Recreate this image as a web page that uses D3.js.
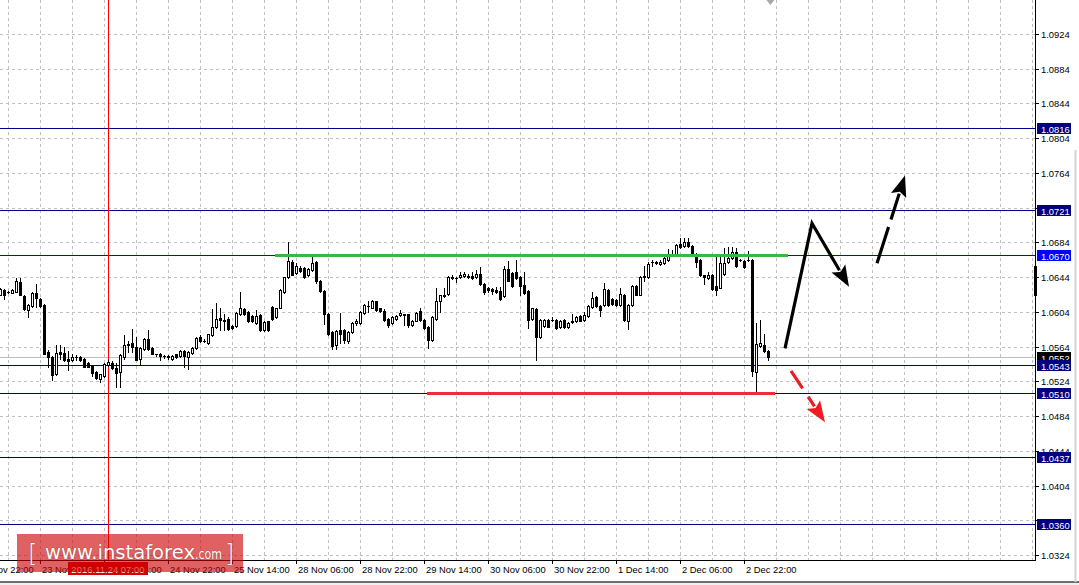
<!DOCTYPE html>
<html><head><meta charset="utf-8">
<script src="https://cdn.jsdelivr.net/npm/d3@7"></script>
<style>html,body{margin:0;padding:0;background:#fff;overflow:hidden}</style>
</head><body>
<svg id="chart" width="1079" height="585"></svg>
<script>
// ---------- DATA ----------
// hourly EURUSD candles [open, high, low, close]; array index = bar number (bar 27 = 2016.11.24 07:00)
const ohlc = [
[1.0624,1.0631,1.0623,1.0630],[1.0629,1.0630,1.0619,1.0624],[1.0627,1.0628,1.0626,1.0627],[1.0626,1.0630,1.0626,1.0629],
[1.0627,1.0643,1.0627,1.0640],[1.0638,1.0643,1.0623,1.0623],[1.0622,1.0623,1.0606,1.0607],[1.0606,1.0613,1.0598,1.0612],
[1.0611,1.0627,1.0610,1.0626],[1.0626,1.0636,1.0610,1.0620],[1.0619,1.0620,1.0610,1.0611],[1.0612,1.0613,1.0555,1.0556],
[1.0558,1.0560,1.0540,1.0552],[1.0552,1.0553,1.0525,1.0531],[1.0533,1.0566,1.0531,1.0557],[1.0558,1.0566,1.0550,1.0556],
[1.0557,1.0564,1.0547,1.0549],[1.0550,1.0559,1.0537,1.0547],[1.0548,1.0556,1.0547,1.0552],[1.0552,1.0554,1.0548,1.0552],
[1.0552,1.0553,1.0547,1.0548],[1.0550,1.0551,1.0540,1.0541],[1.0545,1.0546,1.0540,1.0541],[1.0542,1.0543,1.0530,1.0534],
[1.0535,1.0536,1.0527,1.0528],[1.0527,1.0533,1.0523,1.0532],[1.0530,1.0545,1.0529,1.0544],[1.0543,1.0548,1.0542,1.0546],
[1.0545,1.0547,1.0538,1.0539],[1.0539,1.0545,1.0518,1.0534],[1.0535,1.0556,1.0517,1.0554],[1.0552,1.0577,1.0550,1.0566],
[1.0566,1.0571,1.0558,1.0567],[1.0568,1.0584,1.0558,1.0564],[1.0563,1.0575,1.0548,1.0548],[1.0550,1.0563,1.0543,1.0562],
[1.0561,1.0574,1.0560,1.0573],[1.0573,1.0583,1.0560,1.0561],[1.0562,1.0563,1.0555,1.0556],[1.0555,1.0556,1.0553,1.0555],
[1.0556,1.0557,1.0548,1.0553],[1.0553,1.0554,1.0551,1.0553],[1.0553,1.0554,1.0550,1.0552],[1.0550,1.0554,1.0549,1.0553],
[1.0555,1.0556,1.0551,1.0552],[1.0553,1.0560,1.0552,1.0559],[1.0559,1.0560,1.0540,1.0553],[1.0552,1.0559,1.0538,1.0558],
[1.0557,1.0563,1.0556,1.0562],[1.0562,1.0575,1.0561,1.0574],[1.0575,1.0577,1.0569,1.0570],[1.0571,1.0573,1.0569,1.0571],
[1.0568,1.0579,1.0567,1.0578],[1.0577,1.0607,1.0576,1.0587],[1.0586,1.0614,1.0585,1.0596],[1.0597,1.0608,1.0583,1.0595],
[1.0595,1.0602,1.0583,1.0594],[1.0596,1.0598,1.0583,1.0584],[1.0588,1.0589,1.0584,1.0585],[1.0588,1.0604,1.0587,1.0603],
[1.0601,1.0627,1.0600,1.0608],[1.0607,1.0609,1.0600,1.0601],[1.0604,1.0605,1.0592,1.0593],[1.0599,1.0600,1.0592,1.0593],
[1.0591,1.0606,1.0590,1.0599],[1.0600,1.0601,1.0582,1.0583],[1.0583,1.0593,1.0582,1.0592],[1.0593,1.0594,1.0582,1.0583],
[1.0610,1.0611,1.0595,1.0596],[1.0598,1.0609,1.0597,1.0608],[1.0609,1.0630,1.0608,1.0629],[1.0627,1.0644,1.0626,1.0644],
[1.0644,1.0685,1.0643,1.0663],[1.0662,1.0664,1.0646,1.0647],[1.0649,1.0660,1.0648,1.0657],[1.0655,1.0657,1.0650,1.0651],
[1.0655,1.0656,1.0643,1.0644],[1.0646,1.0654,1.0645,1.0653],[1.0652,1.0667,1.0651,1.0660],[1.0661,1.0663,1.0637,1.0640],
[1.0640,1.0641,1.0627,1.0628],[1.0628,1.0629,1.0590,1.0602],[1.0602,1.0603,1.0577,1.0578],[1.0581,1.0582,1.0561,1.0565],
[1.0566,1.0583,1.0561,1.0582],[1.0583,1.0603,1.0568,1.0578],[1.0583,1.0584,1.0568,1.0572],[1.0571,1.0582,1.0568,1.0581],
[1.0581,1.0592,1.0580,1.0591],[1.0591,1.0596,1.0589,1.0593],[1.0591,1.0605,1.0590,1.0604],[1.0603,1.0613,1.0602,1.0612],
[1.0611,1.0616,1.0604,1.0611],[1.0609,1.0618,1.0608,1.0616],[1.0616,1.0617,1.0605,1.0606],[1.0608,1.0609,1.0604,1.0605],
[1.0605,1.0607,1.0594,1.0595],[1.0596,1.0597,1.0586,1.0589],[1.0591,1.0599,1.0590,1.0598],[1.0596,1.0600,1.0595,1.0599],
[1.0600,1.0606,1.0599,1.0603],[1.0601,1.0602,1.0589,1.0600],[1.0601,1.0602,1.0586,1.0589],[1.0589,1.0595,1.0588,1.0594],
[1.0594,1.0604,1.0593,1.0603],[1.0605,1.0608,1.0594,1.0595],[1.0595,1.0596,1.0584,1.0585],[1.0587,1.0588,1.0562,1.0572],
[1.0572,1.0599,1.0571,1.0598],[1.0596,1.0631,1.0595,1.0616],[1.0616,1.0624,1.0604,1.0623],[1.0622,1.0632,1.0621,1.0624],
[1.0625,1.0645,1.0624,1.0644],[1.0643,1.0647,1.0642,1.0644],[1.0643,1.0644,1.0638,1.0643],[1.0644,1.0650,1.0643,1.0646],
[1.0645,1.0650,1.0644,1.0648],[1.0645,1.0648,1.0643,1.0644],[1.0645,1.0650,1.0642,1.0643],[1.0644,1.0652,1.0643,1.0648],
[1.0648,1.0656,1.0635,1.0636],[1.0636,1.0637,1.0625,1.0627],[1.0632,1.0633,1.0627,1.0629],[1.0630,1.0631,1.0625,1.0628],
[1.0629,1.0633,1.0626,1.0627],[1.0628,1.0633,1.0618,1.0619],[1.0622,1.0657,1.0621,1.0653],[1.0653,1.0663,1.0639,1.0640],
[1.0649,1.0650,1.0633,1.0634],[1.0650,1.0664,1.0642,1.0643],[1.0644,1.0645,1.0623,1.0634],[1.0635,1.0650,1.0625,1.0626],
[1.0628,1.0629,1.0585,1.0595],[1.0596,1.0609,1.0595,1.0608],[1.0607,1.0608,1.0549,1.0575],[1.0575,1.0596,1.0574,1.0595],
[1.0588,1.0596,1.0587,1.0595],[1.0595,1.0596,1.0586,1.0587],[1.0595,1.0598,1.0593,1.0595],[1.0595,1.0596,1.0584,1.0585],
[1.0586,1.0595,1.0585,1.0594],[1.0595,1.0596,1.0585,1.0586],[1.0586,1.0592,1.0585,1.0591],[1.0592,1.0601,1.0591,1.0593],
[1.0593,1.0599,1.0592,1.0598],[1.0599,1.0600,1.0593,1.0594],[1.0595,1.0604,1.0594,1.0600],[1.0599,1.0612,1.0598,1.0611],
[1.0610,1.0627,1.0609,1.0620],[1.0621,1.0622,1.0610,1.0611],[1.0611,1.0612,1.0599,1.0606],[1.0612,1.0637,1.0611,1.0630],
[1.0629,1.0630,1.0611,1.0612],[1.0619,1.0620,1.0612,1.0613],[1.0618,1.0619,1.0611,1.0612],[1.0612,1.0631,1.0611,1.0625],
[1.0624,1.0625,1.0594,1.0595],[1.0594,1.0613,1.0584,1.0612],[1.0612,1.0635,1.0611,1.0634],[1.0634,1.0635,1.0623,1.0624],
[1.0624,1.0645,1.0623,1.0644],[1.0644,1.0657,1.0640,1.0645],[1.0644,1.0662,1.0643,1.0659],[1.0661,1.0664,1.0657,1.0661],
[1.0660,1.0663,1.0659,1.0662],[1.0659,1.0664,1.0658,1.0661],[1.0660,1.0667,1.0659,1.0666],[1.0664,1.0676,1.0663,1.0671],
[1.0671,1.0675,1.0668,1.0669],[1.0671,1.0682,1.0670,1.0681],[1.0682,1.0689,1.0678,1.0679],[1.0680,1.0689,1.0679,1.0684],
[1.0685,1.0689,1.0679,1.0680],[1.0680,1.0681,1.0670,1.0671],[1.0671,1.0672,1.0656,1.0662],[1.0664,1.0665,1.0645,1.0646],
[1.0646,1.0647,1.0636,1.0644],[1.0643,1.0650,1.0642,1.0647],[1.0647,1.0648,1.0629,1.0630],[1.0634,1.0669,1.0624,1.0629],
[1.0632,1.0668,1.0631,1.0660],[1.0648,1.0677,1.0647,1.0660],[1.0661,1.0679,1.0660,1.0666],[1.0666,1.0679,1.0665,1.0673],
[1.0673,1.0677,1.0656,1.0657],[1.0664,1.0665,1.0663,1.0664],[1.0663,1.0664,1.0655,1.0656],[1.0664,1.0674,1.0663,1.0664],
[1.0664,1.0665,1.0530,1.0536],[1.0535,1.0591,1.0509,1.0567],[1.0565,1.0595,1.0564,1.0568],[1.0566,1.0579,1.0558,1.0559],
[1.0559,1.0560,1.0548,1.0552]
];
// price labels visible on the right scale (1.0724 and 1.0364 sit under level tags and are not shown)
const priceTicks = ["1.0324","1.0404","1.0444","1.0484","1.0524","1.0564","1.0604","1.0644","1.0684","1.0764","1.0804","1.0844","1.0884","1.0924"];
const gridPrices = ["1.0324","1.0364","1.0404","1.0444","1.0484","1.0524","1.0564","1.0604","1.0644","1.0684","1.0724","1.0764","1.0804","1.0844","1.0884","1.0924"];
const timeTickBars = [-6,10,26,42,58,74,90,106,122,138,154,170,186];
const timeTickLabels = ["22 Nov 22:00","23 Nov 14:00","24 Nov 06:00","24 Nov 22:00","25 Nov 14:00","28 Nov 06:00","28 Nov 22:00","29 Nov 14:00","30 Nov 06:00","30 Nov 22:00","1 Dec 14:00","2 Dec 06:00","2 Dec 22:00"];
const levelPrices = [1.0816,1.0721,1.0670,1.0543,1.0510,1.0437,1.0360];
const levelLabels = ["1.0816","1.0721","1.0670","1.0543","1.0510","1.0437","1.0360"];
const bidPrice = 1.0552, bidLabel = "1.0552";
const cursorBar = 27, cursorLabel = "2016.11.24 07:00";
const resistance = [68.75, 197, 1.0670];   // from bar, to bar, price
const support = [106.75, 193.75, 1.0510];
const arrowUpDown = [[196.25,1.0562],[203,1.0706],[212.25,1.0633]];
const arrowBreakout = [[219.25,1.0660],[226.25,1.0761]];
const arrowBreakdown = [[197.75,1.0536],[206.25,1.0477]];
const edgeBar = [258.8, 1.0657, 1.0623];
const logoParts = ["[", "www.instaforex", ".com", "]"];

// ---------- SCALES ----------
const W = 1079, H = 585, plotR = 1035, plotB = 560;
const y = d3.scaleLinear().domain([1.0324, 1.0924]).range([555, 34]);
const x = d3.scaleLinear().domain([0, 1]).range([0, 4]);
const svg = d3.select("#chart");
const FONT = "'Liberation Sans', Arial, sans-serif";
const FS = 9.4;
const crisp = v => Math.round(v) + 0.5;

svg.append("rect").attr("width", W).attr("height", H).attr("fill", "#fff");

// ---------- GRID ----------
const grid = svg.append("g").attr("stroke", "#c0c0c0").attr("stroke-dasharray", "3,3").attr("stroke-width", 1);
grid.selectAll("line.h").data(gridPrices).join("line")
  .attr("x1", 0).attr("x2", plotR).attr("y1", d => crisp(y(+d))).attr("y2", d => crisp(y(+d)));
grid.selectAll("line.v").data(d3.range(2, 259, 8)).join("line")
  .attr("y1", 0).attr("y2", plotB).attr("x1", d => crisp(x(d))).attr("x2", d => crisp(x(d)));

// ---------- LEVEL LINES ----------
const lvlColor = p => (p === 1.0670 ? "#0000ff" : "#00008b");
svg.append("g").selectAll("line").data(levelPrices).join("line")
  .attr("x1", 0).attr("x2", plotR).attr("y1", d => crisp(y(d))).attr("y2", d => crisp(y(d)))
  .attr("stroke", lvlColor).attr("stroke-width", 1);
// bid line
svg.append("line").attr("x1", 0).attr("x2", plotR).attr("y1", crisp(y(bidPrice))).attr("y2", crisp(y(bidPrice)))
  .attr("stroke", "#c0c0c0");
// cursor vertical line
svg.append("line").attr("x1", crisp(x(cursorBar))).attr("x2", crisp(x(cursorBar))).attr("y1", 0).attr("y2", plotB)
  .attr("stroke", "#ff0000").attr("stroke-width", 1);

// ---------- CANDLES ----------
const cg = svg.append("g");
cg.selectAll("line.wick").data(ohlc).join("line").attr("class", "wick")
  .attr("x1", (d, i) => crisp(x(i))).attr("x2", (d, i) => crisp(x(i)))
  .attr("y1", d => Math.round(y(d[1]))).attr("y2", d => Math.round(y(d[2])) + 1)
  .attr("stroke", "#000").attr("stroke-width", 1);
cg.selectAll("rect.body").data(ohlc).join("rect").attr("class", "body")
  .each(function (d, i) {
    const [o, h, l, c] = d;
    const cx = Math.round(x(i));
    const top = Math.round(y(Math.max(o, c))), bot = Math.round(y(Math.min(o, c)));
    const s = d3.select(this);
    if (c > o && bot - top >= 2) {
      s.attr("x", cx - 0.5).attr("y", top + 0.5).attr("width", 2).attr("height", bot - top).attr("fill", "#fff").attr("stroke", "#000").attr("stroke-width", 1);
    } else {
      s.attr("x", cx - 1).attr("y", top).attr("width", 3).attr("height", Math.max(1, bot - top + 1)).attr("fill", "#000");
    }
  });
// bar peeking at the right edge
svg.append("rect").attr("x", Math.round(x(edgeBar[0])) - 1).attr("y", Math.round(y(edgeBar[1])))
  .attr("width", 3).attr("height", Math.round(y(edgeBar[2]) - y(edgeBar[1]))).attr("fill", "#000");

// ---------- SUPPORT / RESISTANCE ----------
svg.append("line").attr("x1", x(resistance[0])).attr("x2", x(resistance[1]))
  .attr("y1", crisp(y(resistance[2]))).attr("y2", crisp(y(resistance[2])))
  .attr("stroke", "#39b54a").attr("stroke-width", 3);
svg.append("line").attr("x1", x(support[0])).attr("x2", x(support[1]))
  .attr("y1", crisp(y(support[2]))).attr("y2", crisp(y(support[2])))
  .attr("stroke", "#ed2d3a").attr("stroke-width", 3);

// ---------- ARROWS ----------
function drawArrow(pts, color, dash) {
  const P = pts.map(p => [x(p[0]), y(p[1])]);
  const tip = P[P.length - 1], prev = P[P.length - 2];
  const dx = tip[0] - prev[0], dy = tip[1] - prev[1], len = Math.hypot(dx, dy);
  const ux = dx / len, uy = dy / len, hl = 21, hw = 8;
  const base = [tip[0] - ux * hl, tip[1] - uy * hl];
  const line = P.slice(0, -1).concat([[base[0] + ux * 2, base[1] + uy * 2]]);
  const p = svg.append("path").attr("d", d3.line()(line)).attr("fill", "none")
    .attr("stroke", color).attr("stroke-width", 3.2).attr("stroke-linejoin", "miter").attr("stroke-linecap", "butt");
  if (dash) p.attr("stroke-dasharray", dash);
  svg.append("path").attr("d", d3.line()([tip, [base[0] - uy * hw, base[1] + ux * hw], [base[0] + ux * 4, base[1] + uy * 4], [base[0] + uy * hw, base[1] - ux * hw]]) + "Z")
    .attr("fill", color);
}
drawArrow(arrowUpDown, "#000", null);
drawArrow(arrowBreakout, "#000", "38,8");
drawArrow(arrowBreakdown, "#ee1c25", "21,10");

// shift marker at top
const sx = x(192.6);
svg.append("path").attr("d", `M${sx - 4},0 L${sx + 4},0 L${sx},5 Z`).attr("fill", "#a8a8a8");

// ---------- FRAME ----------
svg.append("line").attr("x1", crisp(plotR)).attr("x2", crisp(plotR)).attr("y1", 0).attr("y2", plotB + 1).attr("stroke", "#000");
svg.append("line").attr("x1", 0).attr("x2", plotR + 1).attr("y1", crisp(plotB)).attr("y2", crisp(plotB)).attr("stroke", "#000");

// ---------- PRICE AXIS ----------
const pa = svg.append("g").attr("font-family", FONT).attr("font-size", FS);
pa.selectAll("line").data(gridPrices).join("line")
  .attr("x1", plotR).attr("x2", plotR + 4).attr("y1", d => crisp(y(+d))).attr("y2", d => crisp(y(+d))).attr("stroke", "#000");
pa.selectAll("text").data(priceTicks).join("text")
  .attr("x", plotR + 6).attr("y", d => Math.round(y(+d)) + 4).attr("fill", "#000").text(d => d);

// level tags
const lg = svg.append("g").attr("font-family", FONT).attr("font-size", FS);
function levelTag(price, label, bg) {
  const cy = Math.round(y(price));
  lg.append("rect").attr("x", plotR + 2).attr("y", cy - 5).attr("width", 34).attr("height", 11).attr("fill", bg);
  lg.append("text").attr("x", plotR + 6).attr("y", cy + 4.5).attr("fill", "#fff").text(label);
}
levelTag(bidPrice, bidLabel, "#000");
levelPrices.forEach((p, i) => levelTag(p, levelLabels[i], p === 1.0670 ? "#0000ff" : "#000080"));

// ---------- TIME AXIS ----------
const ta = svg.append("g").attr("font-family", FONT).attr("font-size", FS);
ta.selectAll("line").data(timeTickBars).join("line")
  .attr("x1", d => crisp(x(d))).attr("x2", d => crisp(x(d))).attr("y1", plotB).attr("y2", plotB + 4).attr("stroke", "#000");
ta.selectAll("text").data(timeTickLabels).join("text")
  .attr("x", (d, i) => x(timeTickBars[i]) + 2).attr("y", 573).attr("fill", "#000").text(d => d);
// cursor time tag
const ctx = x(cursorBar);
svg.append("rect").attr("x", ctx - 40).attr("y", 562).attr("width", 80).attr("height", 13).attr("fill", "#d60000");
svg.append("text").attr("x", ctx).attr("y", 572.5).attr("text-anchor", "middle").attr("font-family", FONT)
  .attr("font-size", 9.5).attr("fill", "#fff").text(cursorLabel);

// bottom and right chrome
svg.append("rect").attr("x", 0).attr("y", 582).attr("width", W).attr("height", 3).attr("fill", "#f0f0f0");
svg.append("line").attr("x1", 0).attr("x2", W).attr("y1", 582).attr("y2", 582).attr("stroke", "#404040").attr("stroke-width", 1.5);
svg.append("line").attr("x1", 1075.5).attr("x2", 1075.5).attr("y1", 150).attr("y2", 582).attr("stroke", "#d4d4d4").attr("stroke-width", 2);

// ---------- LOGO ----------
const logo = svg.append("g");
logo.append("rect").attr("x", 17).attr("y", 534).attr("width", 226).attr("height", 38).attr("fill", "#cc0000").attr("opacity", 0.62);
const lt = logo.append("g").attr("fill", "#fff").attr("font-family", "'DejaVu Sans', Verdana, sans-serif")
  .style("text-shadow", "0 0 1px rgba(80,0,0,0.6)");
lt.append("text").attr("x", 28).attr("y", 562).attr("font-size", 24).attr("font-weight", 300).text(logoParts[0]);
lt.append("text").attr("x", 45).attr("y", 559).attr("font-size", 19).attr("textLength", 150).attr("lengthAdjust", "spacingAndGlyphs").text(logoParts[1]);
lt.append("text").attr("x", 195).attr("y", 559).attr("font-size", 14).attr("textLength", 27).attr("lengthAdjust", "spacingAndGlyphs").text(logoParts[2]);
lt.append("text").attr("x", 225).attr("y", 562).attr("font-size", 24).attr("font-weight", 300).text(logoParts[3]);
</script>
</body></html>
